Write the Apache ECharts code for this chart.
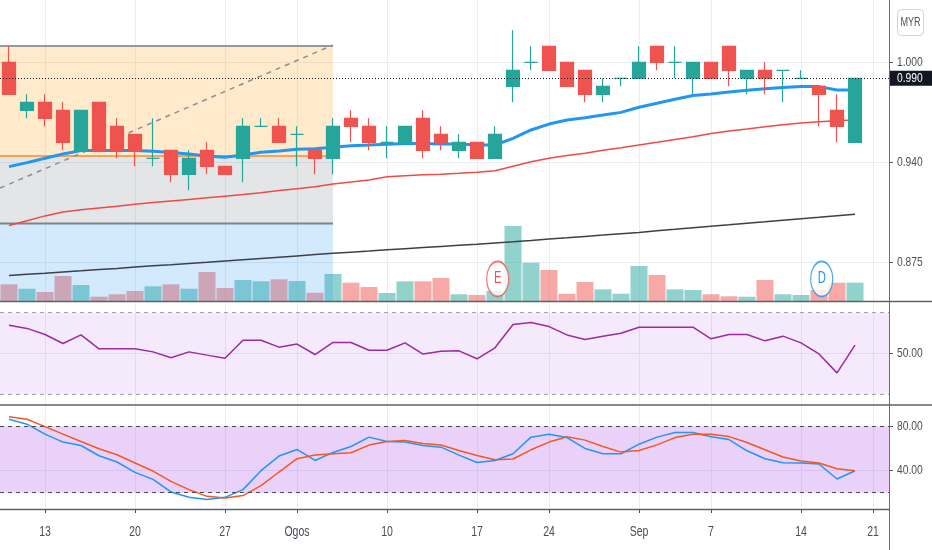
<!DOCTYPE html>
<html>
<head>
<meta charset="utf-8">
<script src="https://cdn.jsdelivr.net/npm/echarts@6/dist/echarts.min.js"></script>
<style>html,body{margin:0;padding:0;background:#ffffff}#c{width:932px;height:550px}</style>
</head>
<body>
<div id="c"></div>
<script>
// ---------------- DATA ----------------
const dates = ['2020-07-09','2020-07-10','2020-07-13','2020-07-14','2020-07-15','2020-07-16','2020-07-17',
 '2020-07-20','2020-07-21','2020-07-22','2020-07-23','2020-07-24','2020-07-27','2020-07-28','2020-07-29','2020-07-30',
 '2020-08-03','2020-08-04','2020-08-05','2020-08-06','2020-08-07','2020-08-10','2020-08-11','2020-08-12','2020-08-13','2020-08-14',
 '2020-08-17','2020-08-18','2020-08-19','2020-08-21','2020-08-24','2020-08-25','2020-08-26','2020-08-27','2020-08-28',
 '2020-09-01','2020-09-02','2020-09-03','2020-09-04','2020-09-07','2020-09-08','2020-09-09','2020-09-10','2020-09-11',
 '2020-09-14','2020-09-15','2020-09-17','2020-09-18'];
const opens  = [1.000,0.970,0.975,0.970,0.945,0.975,0.960,0.955,0.940,0.945,0.930,0.945,0.935,0.940,0.960,0.960,
 0.955,0.945,0.940,0.965,0.960,0.950,0.950,0.965,0.955,0.945,0.950,0.940,0.985,1.000,1.010,1.000,0.995,0.980,0.990,
 0.990,1.010,1.000,0.990,1.000,1.010,0.990,0.995,0.995,0.990,0.985,0.970,0.950];
const highs  = [1.010,0.980,0.980,0.975,0.970,0.975,0.965,0.955,0.965,0.945,0.945,0.950,0.935,0.965,0.965,0.965,
 0.960,0.945,0.965,0.970,0.965,0.960,0.960,0.970,0.960,0.955,0.950,0.960,1.020,1.010,1.010,1.000,0.995,0.990,0.990,
 1.010,1.010,1.010,1.000,1.000,1.010,0.995,1.000,0.995,0.995,0.985,0.980,0.990];
const lows   = [0.980,0.965,0.960,0.945,0.945,0.945,0.940,0.935,0.935,0.925,0.920,0.930,0.930,0.925,0.960,0.950,
 0.935,0.930,0.930,0.950,0.945,0.940,0.950,0.940,0.945,0.940,0.940,0.940,0.975,0.995,0.995,0.985,0.975,0.975,0.985,
 0.990,0.995,0.990,0.980,0.990,0.985,0.980,0.980,0.975,0.990,0.960,0.950,0.950];
const closes = [0.980,0.975,0.965,0.950,0.970,0.945,0.945,0.945,0.940,0.930,0.940,0.935,0.930,0.960,0.960,0.950,
 0.955,0.940,0.960,0.960,0.950,0.950,0.960,0.945,0.950,0.950,0.940,0.955,0.995,1.000,0.995,0.985,0.980,0.985,0.990,
 1.000,1.000,1.000,1.000,0.990,0.995,0.995,0.990,0.995,0.990,0.980,0.960,0.990];
const volumes = [167,123,90,250,160,43,67,100,147,167,123,290,130,210,197,217,200,83,270,183,140,80,197,197,230,67,
 60,100,750,383,310,73,190,117,73,350,260,117,110,67,47,43,210,67,60,110,183,183];
const ema20 = [0.9348,0.9373,0.9400,0.9427,0.9448,0.9448,0.9448,0.9448,0.9444,0.9436,0.9427,0.9415,0.9406,0.9421,
 0.9438,0.9446,0.9456,0.9460,0.9469,0.9479,0.9483,0.9488,0.9492,0.9492,0.9490,0.9490,0.9483,0.9483,0.9525,0.9577,
 0.9614,0.9639,0.9654,0.9670,0.9687,0.9719,0.9744,0.9769,0.9792,0.9802,0.9814,0.9825,0.9835,0.9843,0.9848,0.9848,
 0.9827,0.9827];
const ma50 = [0.8980,0.9010,0.9040,0.9065,0.9078,0.9090,0.9100,0.9113,0.9123,0.9133,0.9143,0.9153,0.9163,0.9173,
 0.9185,0.9198,0.9210,0.9222,0.9240,0.9252,0.9265,0.9285,0.9291,0.9297,0.9301,0.9306,0.9313,0.9322,0.9350,0.9378,
 0.9400,0.9417,0.9432,0.9450,0.9466,0.9483,0.9500,0.9518,0.9535,0.9555,0.9570,0.9583,0.9597,0.9610,0.9620,0.9629,
 0.9635,0.9640];
const ma200 = [0.8667,0.8675,0.8682,0.8690,0.8697,0.8705,0.8712,0.8720,0.8728,0.8735,0.8743,0.8750,0.8758,0.8766,
 0.8774,0.8782,0.8790,0.8798,0.8806,0.8813,0.8820,0.8828,0.8835,0.8842,0.8849,0.8856,0.8863,0.8871,0.8878,0.8886,
 0.8895,0.8903,0.8912,0.8920,0.8929,0.8937,0.8947,0.8956,0.8966,0.8975,0.8984,0.8994,0.9003,0.9013,0.9022,0.9031,
 0.9041,0.9050];
const rsi = [63.9,62.3,59.3,54.9,59.1,52.3,52.3,52.3,50.8,47.9,50.8,49.2,47.7,56.5,56.5,53.1,54.6,49.5,55.4,55.4,
 51.6,51.6,55.2,49.7,51.1,51.3,47.4,52.8,64.2,65.2,63.2,59.1,56.9,58.5,59.9,62.9,62.9,62.9,62.9,57.2,59.3,59.3,56.2,
 58.5,55.2,49.8,40.5,54.1];
const stochK = [86.8,82.3,73.2,66.0,62.9,53.6,47.9,38.5,32.1,20.7,15.8,13.8,15.8,22.8,40.0,53.3,59.3,49.3,56.6,62.0,
 70.5,66.5,66.0,62.9,61.4,54.2,47.5,49.3,55.4,70.5,73.2,70.1,60.2,55.4,55.4,64.1,70.5,74.7,74.7,70.8,68.3,58.1,50.9,
 47.2,47.0,46.1,32.5,40.0];
const stochD = [89.1,86.8,80.1,73.2,66.5,59.9,54.5,47.0,39.7,30.3,22.8,16.7,15.3,17.4,26.4,38.8,50.9,54.2,55.4,56.3,
 63.3,66.5,67.4,64.7,63.3,58.4,53.9,50.0,50.6,59.0,66.0,70.8,67.8,62.0,56.9,58.4,63.5,70.1,73.2,73.2,71.0,65.6,59.0,
 52.4,48.8,47.0,41.8,40.0];
const tickIdx  = [2,7,12,16,21,26,30,35,39,44,48];
const tickText = ['13','20','27','Ogos','10','17','24','Sep','7','14','21'];
const priceTicks = [0.875,0.9375,1.000];
const priceTickText = ['0.875','0.940','1.000'];
const rsiTicks = [50];
const rsiBand = [30,70];
const stochTicks = [40,80];
const stochBand = [20,80];
const eventIdx = [27,45];
const eventText = ['E','D'];
const currency = 'MYR';
// drawing (user annotation) in data coordinates
const drawX = [-0.5, 18];
const drawLevels = [1.0102, 0.9414, 0.8993];
const drawDiag = [[-0.5, 0.9214],[18, 1.0108]];

// ---------------- STYLE / LAYOUT ----------------
const FONT = "'Liberation Sans',Arial,sans-serif";
const TXT = '#4a4d57';
const GRIDC = '#e9edf3';
const UP = '#26a69a', DOWN = '#ef5350';
const PLOT_W = 889, STEP = 18;
const X_MIN = -0.5, X_MAX = PLOT_W / STEP - 0.5;
const Y_MIN = 1 - (301 - 62.3) / 1600, Y_MAX = 1 + 62.3 / 1600;
const RSI_MIN = 25.25, RSI_MAX = 74.75, ST_MIN = 5.2, ST_MAX = 98.8;
const EVENT_Y = 0.8646;
const EVENT_COLORS = { E: '#ef5350', D: '#2196f3' };
const SQ_Y = 0.76, SQ_X = 0.7; // horizontal squeeze of the reference's lettering

const chart = echarts.init(document.getElementById('c'), null, { renderer: 'canvas' });

function xAx(gi, show) {
  return {
    type: 'value', gridIndex: gi, min: X_MIN, max: X_MAX,
    axisLine: { show: false, onZero: false },
    axisTick: { show: show, customValues: tickIdx, length: 4, lineStyle: { color: '#50535e' } },
    axisLabel: { show: false, customValues: tickIdx },
    splitLine: { show: true, lineStyle: { color: GRIDC, width: 1 } }
  };
}
function yAx(gi, min, max, ticks) {
  return {
    type: 'value', gridIndex: gi, position: 'right', min: min, max: max,
    axisLine: { show: false, onZero: false },
    axisTick: { show: true, customValues: ticks, length: 4, lineStyle: { color: '#50535e' } },
    axisLabel: { show: false, customValues: ticks },
    splitLine: { show: true, lineStyle: { color: GRIDC, width: 1 } }
  };
}

const staticGraphics = [
  { type: 'line', z: 100, shape: { x1: PLOT_W + 0.5, y1: 0, x2: PLOT_W + 0.5, y2: 550 }, style: { stroke: '#6a6d78', lineWidth: 1 } },
  { type: 'line', z: 100, shape: { x1: 0, y1: 301.5, x2: 932, y2: 301.5 }, style: { stroke: '#5d606b', lineWidth: 1.5 } },
  { type: 'line', z: 100, shape: { x1: 0, y1: 405, x2: 932, y2: 405 }, style: { stroke: '#5d606b', lineWidth: 1.5 } },
  { type: 'line', z: 100, shape: { x1: 0, y1: 509.5, x2: PLOT_W, y2: 509.5 }, style: { stroke: '#5d606b', lineWidth: 1.5 } },
  { type: 'rect', z: 100, shape: { x: 897.5, y: 9.5, width: 26, height: 26, r: 4 }, style: { fill: '#ffffff', stroke: '#d1d4dc', lineWidth: 1 } },
  { type: 'text', z: 101, x: 910.5, y: 22.5, scaleX: 0.7, style: { text: currency, align: 'center', verticalAlign: 'middle', fill: '#50535e', font: "13px " + FONT } }
];

const option = {
  animation: false,
  backgroundColor: '#ffffff',
  grid: [
    { left: 0, top: 0, width: PLOT_W, height: 301 },
    { left: 0, top: 303, width: PLOT_W, height: 101 },
    { left: 0, top: 406, width: PLOT_W, height: 103 }
  ],
  xAxis: [xAx(0, false), xAx(1, false), xAx(2, true)],
  yAxis: [
    yAx(0, Y_MIN, Y_MAX, priceTicks),
    { type: 'value', gridIndex: 0, min: 0, max: 3010, show: false, splitLine: { show: false }, axisLine: { onZero: false } },
    yAx(1, RSI_MIN, RSI_MAX, rsiTicks),
    yAx(2, ST_MIN, ST_MAX, stochTicks)
  ],
  series: [
    { name: 'Volume', type: 'bar', xAxisIndex: 0, yAxisIndex: 1, z: 1, barWidth: 17, silent: true,
      data: volumes.map((v, i) => [i, v]),
      itemStyle: { color: p => closes[p.dataIndex] >= opens[p.dataIndex] ? 'rgba(38,166,154,0.5)' : 'rgba(239,83,80,0.5)' } },
    { name: 'Drawing', type: 'custom', xAxisIndex: 0, yAxisIndex: 0, z: 2, silent: true,
      data: [[drawX[1], drawLevels[0]]],
      renderItem: function (params, api) {
        const a = api.coord([drawX[0], drawLevels[0]]);
        const b = api.coord([drawX[1], drawLevels[1]]);
        const c = api.coord([drawX[1], drawLevels[2]]);
        const d = api.coord([drawX[1], Y_MIN]);
        const d0 = api.coord(drawDiag[0]), d1 = api.coord(drawDiag[1]);
        return { type: 'group', children: [
          { type: 'rect', shape: { x: a[0], y: a[1], width: b[0] - a[0], height: b[1] - a[1] }, style: { fill: 'rgba(255,152,0,0.2)' } },
          { type: 'rect', shape: { x: a[0], y: b[1], width: b[0] - a[0], height: c[1] - b[1] }, style: { fill: 'rgba(120,123,134,0.2)' } },
          { type: 'rect', shape: { x: a[0], y: c[1], width: b[0] - a[0], height: d[1] - c[1] }, style: { fill: 'rgba(33,150,243,0.2)' } },
          { type: 'line', shape: { x1: a[0], y1: a[1], x2: b[0], y2: a[1] }, style: { stroke: '#9598a1', lineWidth: 2 } },
          { type: 'line', shape: { x1: a[0], y1: b[1], x2: b[0], y2: b[1] }, style: { stroke: '#f6a25a', lineWidth: 2 } },
          { type: 'line', shape: { x1: a[0], y1: c[1], x2: b[0], y2: c[1] }, style: { stroke: '#80838c', lineWidth: 2 } },
          { type: 'line', shape: { x1: d0[0], y1: d0[1], x2: d1[0], y2: d1[1] }, style: { stroke: '#8a8d95', lineWidth: 1.5, lineDash: [5, 5] } }
        ] };
      } },
    { name: 'MA200', type: 'line', xAxisIndex: 0, yAxisIndex: 0, z: 3, symbol: 'none', silent: true,
      data: ma200.map((v, i) => [i, v]), lineStyle: { color: '#3d4049', width: 1.5 } },
    { name: 'MA50', type: 'line', xAxisIndex: 0, yAxisIndex: 0, z: 3, symbol: 'none', silent: true,
      data: ma50.map((v, i) => [i, v]), lineStyle: { color: '#ef4a47', width: 1.5 } },
    { name: 'EMA20', type: 'line', xAxisIndex: 0, yAxisIndex: 0, z: 3, symbol: 'none', silent: true,
      data: ema20.map((v, i) => [i, v]), lineStyle: { color: '#2196f3', width: 3 } },
    { name: 'Price', type: 'candlestick', xAxisIndex: 0, yAxisIndex: 0, z: 4, barWidth: 13, silent: true,
      data: opens.map((o, i) => [i, o, closes[i], lows[i], highs[i]]),
      itemStyle: { color: UP, color0: DOWN, borderColor: UP, borderColor0: DOWN, borderColorDoji: UP, borderWidth: 1.2 },
      markLine: { silent: true, symbol: 'none', label: { show: false },
        lineStyle: { type: [1, 2], color: '#131722', width: 1 },
        data: [{ yAxis: closes[closes.length - 1] }] } },
    { name: 'Events', type: 'scatter', xAxisIndex: 0, yAxisIndex: 0, z: 5, silent: true,
      symbol: 'path://M0,50A50,50,0,1,1,100,50A50,50,0,1,1,0,50Z', symbolSize: [22, 35],
      data: eventIdx.map((k, i) => ({ value: [k + 0.15, EVENT_Y],
        itemStyle: { color: '#ffffff', borderColor: EVENT_COLORS[eventText[i]], borderWidth: 1.5 } })) },
    { name: 'RSI', type: 'line', xAxisIndex: 1, yAxisIndex: 2, z: 3, symbol: 'none', silent: true,
      data: rsi.map((v, i) => [i, v]), lineStyle: { color: '#9c2ba0', width: 1.5 },
      markArea: { silent: true, itemStyle: { color: 'rgba(156,39,230,0.1)' }, data: [[{ yAxis: rsiBand[1] }, { yAxis: rsiBand[0] }]] },
      markLine: { silent: true, symbol: 'none', label: { show: false },
        lineStyle: { type: [4, 4], color: '#9ea1aa', width: 1 }, data: [{ yAxis: rsiBand[1] }, { yAxis: rsiBand[0] }] } },
    { name: '%K', type: 'line', xAxisIndex: 2, yAxisIndex: 3, z: 3, symbol: 'none', silent: true,
      data: stochK.map((v, i) => [i, v]), lineStyle: { color: '#2196f3', width: 1.5 },
      markArea: { silent: true, itemStyle: { color: 'rgba(156,39,230,0.21)' }, data: [[{ yAxis: stochBand[1] }, { yAxis: stochBand[0] }]] },
      markLine: { silent: true, symbol: 'none', label: { show: false },
        lineStyle: { type: [4, 4], color: '#45474f', width: 1 }, data: [{ yAxis: stochBand[1] }, { yAxis: stochBand[0] }] } },
    { name: '%D', type: 'line', xAxisIndex: 2, yAxisIndex: 3, z: 3, symbol: 'none', silent: true,
      data: stochD.map((v, i) => [i, v]), lineStyle: { color: '#f5581f', width: 1.5 } }
  ],
  graphic: staticGraphics
};
chart.setOption(option);

// ---- axis / marker lettering placed through the chart's own scales (squeezed like the reference) ----
function txt(text, x, y, align, color, size, sq, z) {
  return { type: 'text', z: z || 101, x: x, y: y, scaleX: sq,
    style: { text: text, align: align, verticalAlign: 'middle', fill: color, font: size + 'px ' + FONT } };
}
const labels = [];
const LX = PLOT_W + 8;
priceTicks.forEach((v, j) => labels.push(txt(priceTickText[j], LX, chart.convertToPixel({ yAxisIndex: 0 }, v), 'left', TXT, 13.5, SQ_Y)));
rsiTicks.forEach(v => labels.push(txt(v.toFixed(2), LX, chart.convertToPixel({ yAxisIndex: 2 }, v), 'left', TXT, 13.5, SQ_Y)));
stochTicks.forEach(v => labels.push(txt(v.toFixed(2), LX, chart.convertToPixel({ yAxisIndex: 3 }, v), 'left', TXT, 13.5, SQ_Y)));
tickIdx.forEach((k, j) => labels.push(txt(tickText[j], chart.convertToPixel({ xAxisIndex: 2 }, k), 531.5, 'center', TXT, 15, SQ_X)));
eventIdx.forEach((k, j) => {
  const p = chart.convertToPixel({ xAxisIndex: 0, yAxisIndex: 0 }, [k + 0.15, EVENT_Y]);
  labels.push(txt(eventText[j], p[0], p[1], 'center', EVENT_COLORS[eventText[j]], 16, 0.7, 110));
});
const lastClose = closes[closes.length - 1];
const py = chart.convertToPixel({ yAxisIndex: 0 }, lastClose);
labels.push({ type: 'rect', z: 105, shape: { x: PLOT_W + 1, y: py - 7.5, width: 932 - PLOT_W - 1, height: 15 }, style: { fill: '#131722' } });
labels.push(txt(lastClose.toFixed(3), LX, py, 'left', '#ffffff', 13.5, SQ_Y, 106));
chart.setOption({ graphic: staticGraphics.concat(labels) });
</script>
</body>
</html>
